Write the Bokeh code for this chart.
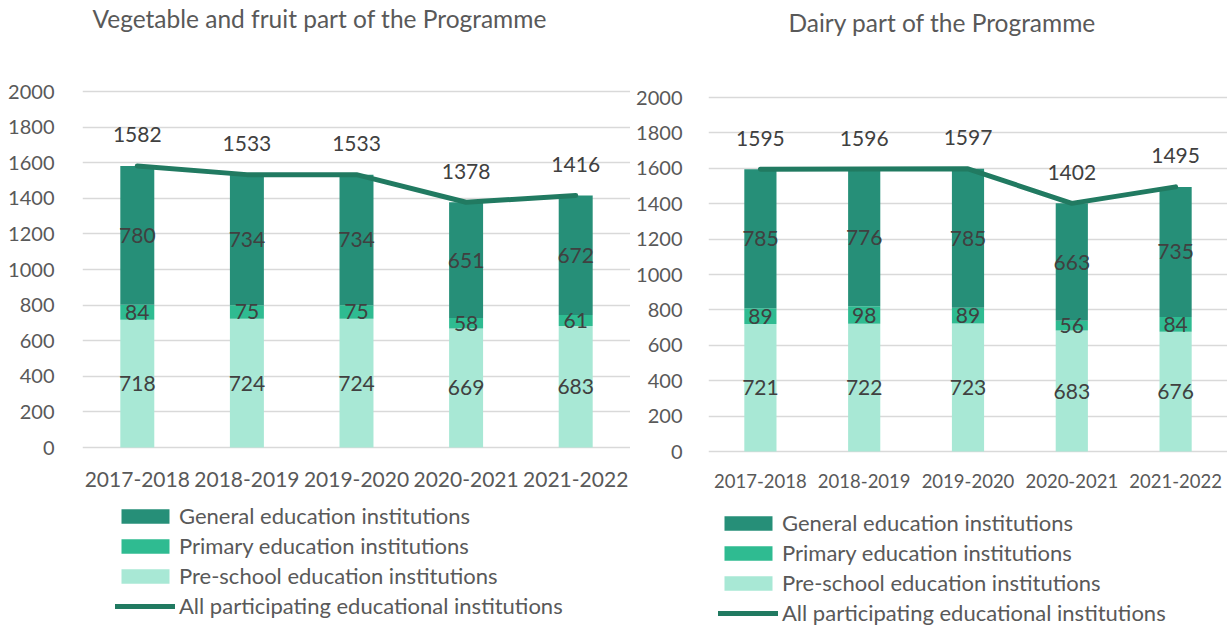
from bokeh.plotting import figure
from bokeh.models import (ColumnDataSource, FactorRange, FixedTicker, Legend, LegendItem,
                          Label, Range1d)
from bokeh.layouts import row
from bokeh.embed import file_html
from bokeh.resources import INLINE
from bokeh.core.properties import value

years = ["2017-2018", "2018-2019", "2019-2020", "2020-2021", "2021-2022"]

vf_preschool = [718, 724, 724, 669, 683]
vf_primary = [84, 75, 75, 58, 61]
vf_general = [780, 734, 734, 651, 672]
vf_total = [1582, 1533, 1533, 1378, 1416]

d_preschool = [721, 722, 723, 683, 676]
d_primary = [89, 98, 89, 56, 84]
d_general = [785, 776, 785, 663, 735]
d_total = [1595, 1596, 1597, 1402, 1495]

y_ticks = list(range(0, 2001, 200))

series_names = ["General education institutions", "Primary education institutions",
                "Pre-school education institutions", "All participating educational institutions"]

FONT = "Lato"
C_GEN = "#268f78"
C_PRI = "#2fbb91"
C_PRE = "#a8e8d5"
C_LINE = "#217a61"
TXT = "#595959"
LBL = "#404040"
GRID = "#d9d9d9"
H = 626


def make(title, pre, pri, gen, tot, cfg):
    src = ColumnDataSource(dict(
        year=years, pre=pre, pri=pri, gen=gen, tot=tot,
        pre_mid=[a / 2 for a in pre],
        pri_mid=[a + b / 2 for a, b in zip(pre, pri)],
        gen_mid=[a + b + c / 2 for a, b, c in zip(pre, pri, gen)],
        pre_s=[str(v) for v in pre], pri_s=[str(v) for v in pri],
        gen_s=[str(v) for v in gen], tot_s=[str(v) for v in tot],
    ))
    # frame spans the full height; 0 and 2000 land at the reference pixel rows
    ppu = (cfg["y0"] - cfg["y2000"]) / 2000.0
    y_end = 2000 + cfg["y2000"] / ppu
    y_start = -(H - cfg["y0"]) / ppu
    p = figure(x_range=FactorRange(factors=years, range_padding=0, factor_padding=0),
               y_range=Range1d(y_start, y_end), width=cfg["width"], height=H,
               output_backend="svg", toolbar_location=None,
               min_border_left=cfg["bl"], min_border_right=0,
               min_border_top=0, min_border_bottom=0)
    p.outline_line_color = None
    p.background_fill_color = "white"
    rs = p.vbar_stack(["pre", "pri", "gen"], x="year", width=0.31, source=src,
                      fill_color=[C_PRE, C_PRI, C_GEN], line_color=None)
    ln = p.line("year", "tot", source=src, line_width=5, line_color=C_LINE, line_cap="round")
    for ycol, tcol in [("pre_mid", "pre_s"), ("pri_mid", "pri_s"), ("gen_mid", "gen_s")]:
        p.text(x="year", y=ycol, text=tcol, source=src, text_align="center",
               text_baseline="middle", text_font=value(FONT), text_font_size="21px",
               text_color=LBL)
    p.text(x="year", y="tot", text="tot_s", source=src, text_align="center",
           text_baseline="middle", y_offset=-31, text_font=value(FONT),
           text_font_size="21px", text_color=LBL)

    p.yaxis.ticker = FixedTicker(ticks=y_ticks)
    p.yaxis.axis_line_color = None
    p.yaxis.major_tick_line_color = None
    p.yaxis.minor_tick_line_color = None
    p.yaxis.major_label_text_font = FONT
    p.yaxis.major_label_text_font_size = "20px"
    p.yaxis.major_label_text_color = TXT
    p.yaxis.major_label_standoff = cfg["ystand"]

    p.xaxis.fixed_location = 0
    p.xaxis.axis_line_color = None
    p.xaxis.major_tick_line_color = None
    p.xaxis.major_label_text_font = FONT
    p.xaxis.major_label_text_font_size = cfg["xfs"]
    p.xaxis.major_label_text_color = TXT
    p.xaxis.major_label_standoff = cfg["xstand"]

    p.xgrid.grid_line_color = None
    p.ygrid.grid_line_color = GRID
    p.ygrid.grid_line_width = 1.5

    legend = Legend(items=[
        LegendItem(label=series_names[0], renderers=[rs[2]]),
        LegendItem(label=series_names[1], renderers=[rs[1]]),
        LegendItem(label=series_names[2], renderers=[rs[0]]),
        LegendItem(label=series_names[3], renderers=[ln]),
    ], location=cfg["legloc"], orientation="vertical", glyph_width=60, glyph_height=18,
        label_height=26, spacing=3, padding=0, margin=0, label_standoff=4,
        background_fill_alpha=0, border_line_color=None,
        label_text_font=FONT, label_text_font_size="22px", label_text_color=TXT)
    p.add_layout(legend)

    p.add_layout(Label(x=cfg["tx"], y=H - cfg["ty"], x_units="screen", y_units="screen",
                       text=title, text_font=FONT, text_font_size="24.5px",
                       text_color=TXT, text_baseline="middle"))
    return p


left = make("Vegetable and fruit part of the Programme", vf_preschool, vf_primary, vf_general, vf_total,
            dict(width=630, bl=82, y0=447, y2000=91, ystand=22, xfs="21px", xstand=18,
                 legloc=(33, 7), tx=10, ty=18))
right = make("Dairy part of the Programme", d_preschool, d_primary, d_general, d_total,
             dict(width=597, bl=78, y0=451, y2000=97, ystand=20, xfs="18.5px", xstand=16,
                  legloc=(10, 0), tx=80, ty=22))

layout = row(left, right)
open("out.html", "w").write(file_html(layout, INLINE))
